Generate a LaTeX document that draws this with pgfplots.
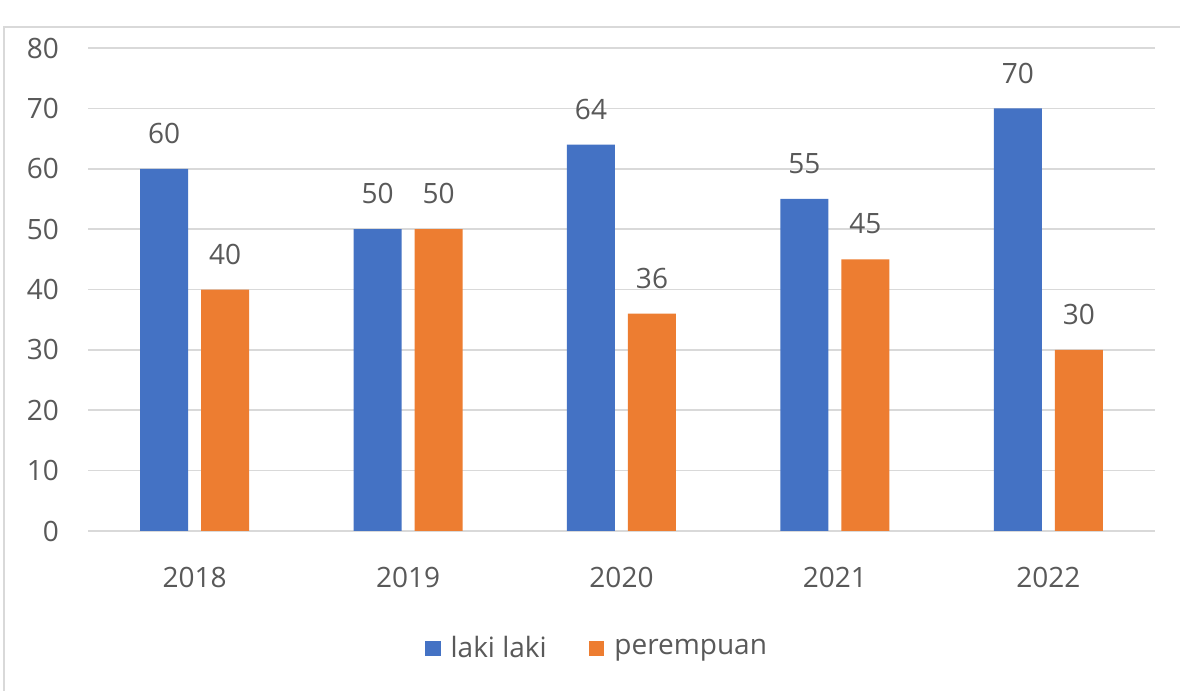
\documentclass[border=0pt]{standalone}
\usepackage{pgfplots}
\pgfplotsset{compat=1.18}
\usepackage{fontspec}
\setmainfont{Open Sans}
\definecolor{cblue}{HTML}{4472C4}
\definecolor{corange}{HTML}{ED7D31}
\definecolor{tgrey}{HTML}{595959}
\definecolor{lgrey}{HTML}{D9D9D9}
\begin{document}
\begin{tikzpicture}
\useasboundingbox (0pt,0pt) rectangle (590pt,345.5pt);
\fill[white] (0pt,0pt) rectangle (590pt,345.5pt);
\draw[lgrey, line width=0.8pt] (2pt,-10pt) -- (2pt,332pt) -- (600pt,332pt);
\begin{axis}[
  at={(44pt,80pt)}, anchor=south west,
  scale only axis, width=533.5pt, height=241.5pt,
  xmin=-0.5, xmax=4.5, ymin=0, ymax=80,
  ybar=6.5pt, bar width=24pt,
  xtick=data, xticklabels={2018,2019,2020,2021,2022},
  ytick={0,10,...,80},
  axis line style={draw=none},
  tick style={draw=none},
  ymajorgrids, grid style={lgrey, line width=0.8pt},
  tick label style={font=\fontsize{14}{16}\selectfont, text=tgrey},
  /pgf/number format/assume math mode=true,
  yticklabel style={xshift=-11pt},
  xticklabel style={yshift=-10.5pt},
  nodes near coords,
  every node near coord/.append style={font=\fontsize{14}{16}\selectfont, text=tgrey, anchor=south, yshift=9pt},
  legend style={at={(0.4808,-0.243)}, anchor=center, draw=none, fill=none,
    legend columns=-1, font=\fontsize{14}{16}\selectfont, text=tgrey,
    nodes={inner xsep=5pt},
    /tikz/every even column/.append style={column sep=16pt}},
  legend image code/.code={\fill[#1] (0pt,-3.9pt) rectangle (7.8pt,3.9pt);},
]
\addplot[draw=none, fill=cblue] coordinates {(0,60) (1,50) (2,64) (3,55) (4,70)};
\addplot[draw=none, fill=corange] coordinates {(0,40) (1,50) (2,36) (3,45) (4,30)};
\legend{laki laki, perempuan}
\end{axis}
\end{tikzpicture}
\end{document}
